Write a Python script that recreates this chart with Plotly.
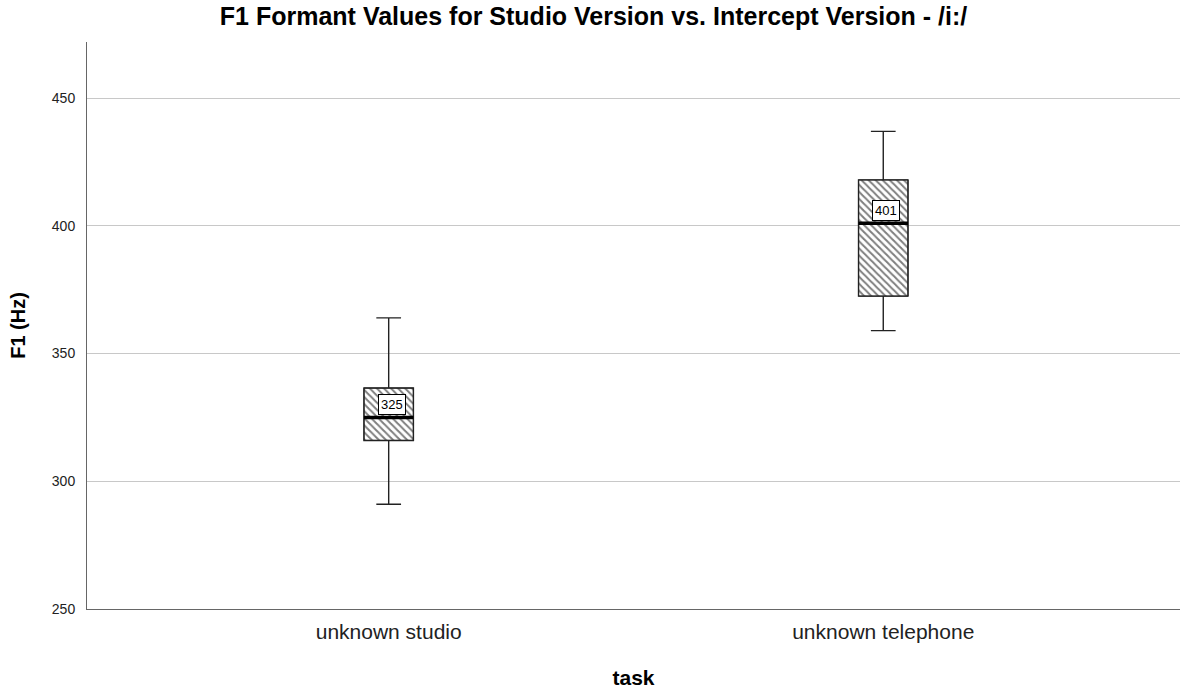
import plotly.graph_objects as go

categories = ["unknown studio", "unknown telephone"]
lower_whisker = [291, 359]
q1 = [316, 372.5]
median = [325, 401]
q3 = [336.5, 418]
upper_whisker = [364, 437]
median_labels = ["325", "401"]

xpos = list(range(len(categories)))
box_w = 0.1
FONT = "Liberation Sans, Arial, sans-serif"

fig = go.Figure()

# hatched box body
fig.add_trace(go.Bar(
    x=xpos, base=q1, y=[b - a for a, b in zip(q1, q3)], width=box_w,
    marker=dict(color="white", line=dict(color="#333333", width=1),
                pattern=dict(shape="\\", fgcolor="#000000", bgcolor="white", size=5, solidity=0.4)),
    showlegend=False, hoverinfo="skip"))

# whiskers and outline
fig.add_trace(go.Box(
    x=xpos, q1=q1, median=median, q3=q3, lowerfence=lower_whisker, upperfence=upper_whisker,
    width=box_w, whiskerwidth=0.5, fillcolor="rgba(0,0,0,0)",
    line=dict(color="#222222", width=1.4), showlegend=False, hoverinfo="skip"))

# thick median lines
for i, m in zip(xpos, median):
    fig.add_trace(go.Scatter(x=[i - box_w / 2, i + box_w / 2], y=[m, m], mode="lines",
                             line=dict(color="black", width=3.5), showlegend=False, hoverinfo="skip"))

for i, m, t in zip(xpos, median, median_labels):
    fig.add_annotation(x=i, y=m, text=t, showarrow=False, yshift=13, xshift=3,
                       font=dict(family=FONT, size=13, color="black"),
                       bgcolor="white", bordercolor="black", borderwidth=1, borderpad=2)

fig.update_layout(
    width=1180, height=689,
    margin=dict(l=87, r=0, t=42, b=80),
    paper_bgcolor="white", plot_bgcolor="white",
    title=dict(text="<b>F1 Formant Values for Studio Version vs. Intercept Version - /i:/</b>",
               x=0.503, xanchor="center", xref="container", y=0.977, yanchor="middle", yref="container",
               font=dict(family=FONT, size=25, color="black")),
    xaxis=dict(range=[-0.61, 1.60], tickvals=xpos, ticktext=categories,
               showgrid=False, zeroline=False, showline=True, linecolor="#666666", linewidth=1,
               ticks="", tickfont=dict(family=FONT, size=21, color="#222222"), ticklabelstandoff=4,
               title=dict(text="<b>task</b>", font=dict(family=FONT, size=21, color="black"), standoff=32)),
    yaxis=dict(range=[250, 472], tickvals=[250, 300, 350, 400, 450],
               showgrid=True, gridcolor="#c8c8c8", gridwidth=1, zeroline=False,
               showline=True, linecolor="#666666", linewidth=1, ticks="",
               tickfont=dict(family=FONT, size=14, color="#222222"), ticklabelstandoff=8,
               title=dict(text="<b>F1 (Hz)</b>", font=dict(family=FONT, size=20, color="black"), standoff=20)),
)

fig.write_html("out.html", config={"displayModeBar": False},
               post_script="document.body.style.margin='0';document.body.style.overflow='hidden';")
